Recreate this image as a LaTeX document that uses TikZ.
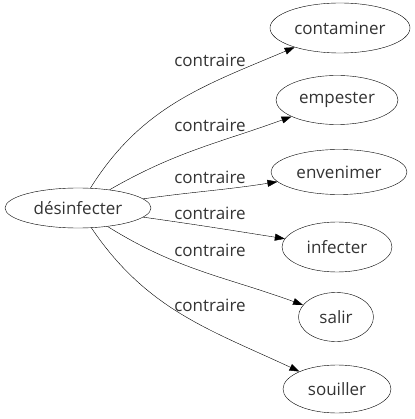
\documentclass[tikz,border=0pt]{standalone}
\usepackage{fontspec}
\setmainfont{Open Sans}
\usetikzlibrary{arrows.meta,shapes.geometric}

\begin{document}
\begin{tikzpicture}[x=1pt, y=1pt, >={Triangle[length=10pt,width=7pt]},
  word/.style={draw, ellipse, inner sep=0pt, font=\fontsize{17}{19}\selectfont, text=black!80},
  rel/.style={font=\fontsize{17}{19}\selectfont, text=black!80, inner sep=0pt}]
  \useasboundingbox (0,0) rectangle (414,-419);
  \node[word, minimum width=146pt, minimum height=40pt] (des) at (78,-208) {désinfecter};
  \node[word, minimum width=140pt, minimum height=50pt] (cont) at (340,-28) {contaminer};
  \node[word, minimum width=122pt, minimum height=49pt] (emp) at (337,-100) {empester};
  \node[word, minimum width=136pt, minimum height=45pt] (env) at (339,-172) {envenimer};
  \node[word, minimum width=110pt, minimum height=50pt] (inf) at (337,-247) {infecter};
  \node[word, minimum width=75pt, minimum height=49pt] (sal) at (336,-317) {salir};
  \node[word, minimum width=108pt, minimum height=48pt] (sou) at (337,-389) {souiller};
  \node[rel] (l1) at (210,-60) {contraire};
  \node[rel] (l2) at (210,-125) {contraire};
  \node[rel] (l3) at (210,-177) {contraire};
  \node[rel] (l4) at (210,-213) {contraire};
  \node[rel] (l5) at (210,-250) {contraire};
  \node[rel] (l6) at (210,-305) {contraire};
  \draw[->] (des) to[out=58, in=203] (cont);
  \draw[->] (des) to[out=30, in=200] (emp);
  \draw[->] (des) to[out=8, in=189] (env);
  \draw[->] (des) to[out=-8, in=171] (inf);
  \draw[->] (des) to[out=-32, in=160] (sal);
  \draw[->] (des) to[out=-56, in=155] (sou);
\end{tikzpicture}
\end{document}
